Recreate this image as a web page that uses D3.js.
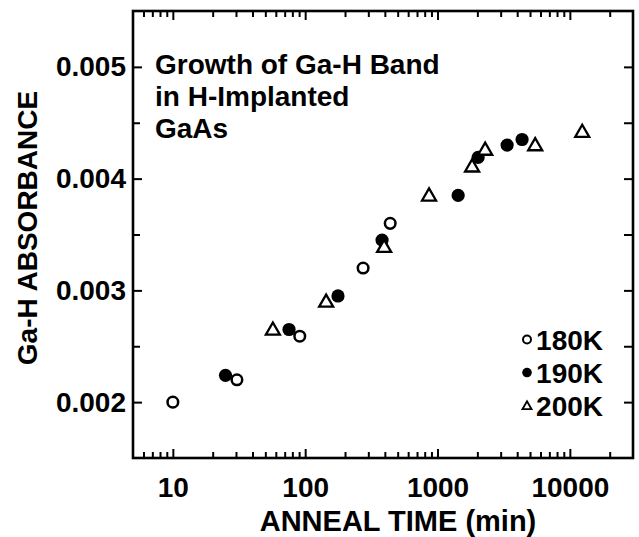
<!DOCTYPE html>
<html>
<head>
<meta charset="utf-8">
<script src="https://cdn.jsdelivr.net/npm/d3@7"></script>
<style>
	body { margin: 0; background: #fff; }
	text { font-family: "Liberation Sans", Arial, sans-serif; font-weight: bold; fill: #000; }
	.axis path { display: none; }
	.axis line { stroke: #000; stroke-width: 2; }
</style>
</head>
<body>
<svg id="chart" width="639" height="537"></svg>
<script>
/* Data: anneal time (min) and Ga-H absorbance */

var t180 = [10, 30.5, 91, 274, 439];
var a180 = [0.00200, 0.00220, 0.00259, 0.00320, 0.00360];

var t190 = [25, 75.5, 177, 381, 1432, 2027, 3357, 4355];
var a190 = [0.00224, 0.00265, 0.00295, 0.00345, 0.00385, 0.00419, 0.00430, 0.00435];

var t200 = [57, 144, 395, 863, 1825, 2291, 5470, 12400];
var a200 = [0.00264, 0.00289, 0.00338, 0.00384, 0.00410, 0.00425, 0.00429, 0.00441];

var xMajor = [10, 100, 1000, 10000];
var yMajor = [0.002, 0.003, 0.004, 0.005];
var yMinor = [0.0025, 0.0035, 0.0045];
var legendLabels = ["180K", "190K", "200K"];
var insetLines = ["Growth of Ga-H Band", "in H-Implanted", "GaAs"];

var svg = d3.select("#chart");

var margin = {top: 11, right: 6, bottom: 79, left: 133},
	width = 639 - margin.left - margin.right,
	height = 537 - margin.top - margin.bottom;

var x = d3.scaleLog()
	.domain([5, 30000])
	.range([0, width]);

var y = d3.scaleLinear()
	.domain([0.0015, 0.0055])
	.range([height, 0]);

var g = svg.append("g")
	.attr("transform", "translate(" + margin.left + "," + margin.top + ")");

/* minor log ticks: 2..9 of each decade */
var xMinor = [];
[1, 10, 100, 1000, 10000].forEach(function(d) {
	for (var k = 2; k <= 9; k++) {
		var v = d * k;
		if (v > 5 && v < 30000) xMinor.push(v);
	}
});

/* Axes, ticks pointing inward */

g.append("g")
	.attr("class", "axis axis--x")
	.attr("transform", "translate(0," + height + ")")
	.call(d3.axisBottom(x).tickValues(xMajor).tickSize(-9).tickPadding(19)
		.tickFormat(d3.format("d")))
	.selectAll("text").style("font-size", "28px");

g.append("g")
	.attr("class", "axis")
	.attr("transform", "translate(0," + height + ")")
	.call(d3.axisBottom(x).tickValues(xMinor).tickSize(-6).tickFormat(""));

g.append("g")
	.attr("class", "axis")
	.call(d3.axisTop(x).tickValues(xMajor).tickSize(-9).tickFormat(""));

g.append("g")
	.attr("class", "axis")
	.call(d3.axisTop(x).tickValues(xMinor).tickSize(-6).tickFormat(""));

g.append("g")
	.attr("class", "axis axis--y")
	.call(d3.axisLeft(y).tickValues(yMajor).tickSize(-9).tickPadding(7)
		.tickFormat(d3.format(".3f")))
	.selectAll("text").style("font-size", "28px");

g.append("g")
	.attr("class", "axis")
	.call(d3.axisLeft(y).tickValues(yMinor).tickSize(-7).tickFormat(""));

g.append("g")
	.attr("class", "axis")
	.attr("transform", "translate(" + width + ",0)")
	.call(d3.axisRight(y).tickValues(yMajor.concat(yMinor)).tickSize(-9).tickFormat(""));

/* Frame */

g.append("rect")
	.attr("width", width)
	.attr("height", height)
	.attr("fill", "none")
	.attr("stroke", "#000")
	.attr("stroke-width", 2.6);

/* Axis titles */

svg.append("text")
	.attr("x", 398)
	.attr("y", 531)
	.attr("text-anchor", "middle")
	.style("font-size", "29px")
	.text("ANNEAL TIME (min)");

svg.append("text")
	.attr("transform", "translate(37,228) rotate(-90)")
	.attr("text-anchor", "middle")
	.style("font-size", "28px")
	.text("Ga-H ABSORBANCE");

/* Inset title */

g.append("g").selectAll("text")
	.data(insetLines)
	.enter().append("text")
	.attr("x", 22)
	.attr("y", function(d, i) { return 63 + i * 32; })
	.style("font-size", "28px")
	.text(function(d) { return d; });

/* Points */

var tri = d3.symbol().type(d3.symbolTriangle);

function pairs(t, a) {
	return t.map(function(d, i) { return [d, a[i]]; });
}

g.append("g").selectAll("circle")
	.data(pairs(t180, a180))
	.enter().append("circle")
	.attr("cx", function(d) { return x(d[0]); })
	.attr("cy", function(d) { return y(d[1]); })
	.attr("r", 5.3)
	.attr("fill", "#fff")
	.attr("stroke", "#000")
	.attr("stroke-width", 2.5);

g.append("g").selectAll("circle")
	.data(pairs(t190, a190))
	.enter().append("circle")
	.attr("cx", function(d) { return x(d[0]); })
	.attr("cy", function(d) { return y(d[1]); })
	.attr("r", 6.6)
	.attr("fill", "#000");

g.append("g").selectAll("path")
	.data(pairs(t200, a200))
	.enter().append("path")
	.attr("transform", function(d) { return "translate(" + x(d[0]) + "," + y(d[1]) + ")"; })
	.attr("d", tri.size(85))
	.attr("fill", "#fff")
	.attr("stroke", "#000")
	.attr("stroke-width", 2.3);

/* Legend */

var legend = g.append("g")
	.attr("transform", "translate(" + (width - 30) + ",0)");

var rows = legend.selectAll("g")
	.data(legendLabels)
	.enter().append("g")
	.attr("transform", function(d, i) { return "translate(0," + (y(0.00256) + i * 33) + ")"; });

rows.append("text")
	.attr("text-anchor", "end")
	.attr("dy", "0.36em")
	.style("font-size", "28px")
	.text(function(d) { return d; });

rows.each(function(d, i) {
	var row = d3.select(this);
	var mx = -76;
	if (i === 0) {
		row.append("circle").attr("cx", mx).attr("r", 4)
			.attr("fill", "#fff").attr("stroke", "#000").attr("stroke-width", 2);
	} else if (i === 1) {
		row.append("circle").attr("cx", mx).attr("r", 4.8).attr("fill", "#000");
	} else {
		row.append("path").attr("transform", "translate(" + mx + ",1)")
			.attr("d", tri.size(36))
			.attr("fill", "#fff").attr("stroke", "#000").attr("stroke-width", 1.8);
	}
});
</script>
</body>
</html>
